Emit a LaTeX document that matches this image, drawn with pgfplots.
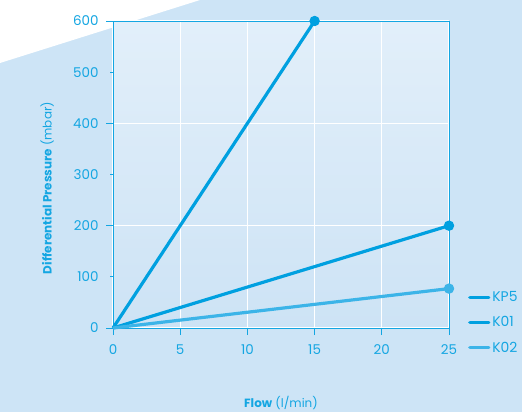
\documentclass[border=0pt]{standalone}
\usepackage{pgfplots}
\pgfplotsset{compat=1.18}
\usepackage{fontspec}
\setmainfont{Poppins}
\definecolor{bgblue}{RGB}{205,228,246}
\definecolor{plottop}{RGB}{226,239,250}
\definecolor{plotbot}{RGB}{205,227,245}
\definecolor{axisblue}{RGB}{20,166,226}
\definecolor{lineblue}{RGB}{0,160,224}
\definecolor{lightline}{RGB}{60,180,232}

\begin{document}
\begin{tikzpicture}[x=1bp,y=1bp]
\fill[bgblue] (0,0) rectangle (522,412);
\fill[white] (0,412) -- (200,412) -- (0,349) -- cycle;
\begin{axis}[
    at={(113bp,84bp)}, anchor=south west,
    scale only axis, width=336bp, height=307bp,
    xmin=0, xmax=25, ymin=0, ymax=600,
    xtick={0,5,...,25}, ytick={0,200,400,600},
    extra y ticks={100,300,500},
    extra y tick style={major tick length=3bp, grid=none,
        yticklabel style={xshift=-4bp}},
    tick align=outside, major tick length=7bp,
    tick style={draw=axisblue, line width=1pt},
    xtick pos=bottom, ytick pos=left,
    grid=major, grid style={white, line width=1.2pt},
    axis line style={draw=axisblue, line width=1pt},
    axis background/.style={top color=plottop, bottom color=plotbot},
    ticklabel style={font=\fontsize{13.5}{15}\selectfont, text=axisblue},
    xticklabel style={yshift=-6bp},
    yticklabel style={xshift=-4bp},
    /pgf/number format/assume math mode=true,
    xlabel={\textbf{Flow} (l/min)},
    ylabel={\textbf{Differential Pressure} (mbar)},
    label style={font=\fontsize{12}{14}\selectfont, text=axisblue},
    xlabel style={at={(axis description cs:0.5,-0.245)}, anchor=center},
    ylabel style={at={(axis description cs:-0.196,0.456)}, anchor=center},
    legend style={at={(axis description cs:1,0.132)}, anchor=north west, xshift=16bp,
        draw=none, fill=none, font=\fontsize{14}{16}\selectfont, text=axisblue,
        row sep=9.5bp, cells={anchor=west}},
    legend image code/.code={\draw[#1, line cap=round, mark=none] (0bp,0bp) -- (19bp,0bp);},
    clip=false,
]
\addplot[lineblue, line width=3.2pt, mark=*, mark indices={2}, mark size=3.5bp] coordinates {(0,0) (15,600)};
\addlegendentry{KP5}
\addplot[lineblue, line width=3.2pt, mark=*, mark indices={2}, mark size=3.5bp] coordinates {(0,0) (25,200)};
\addlegendentry{K01}
\addplot[lightline, line width=3.2pt, mark=*, mark indices={2}, mark size=3.5bp] coordinates {(0,0) (25,77)};
\addlegendentry{K02}
\end{axis}
\pgfresetboundingbox
\path (0,0) rectangle (522,412);
\end{tikzpicture}
\end{document}
